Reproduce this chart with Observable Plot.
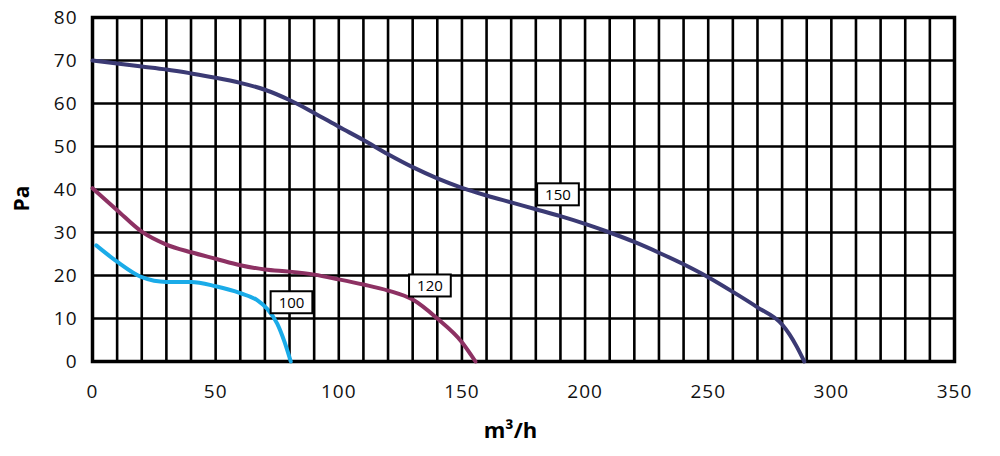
<!DOCTYPE html>
<html><head><meta charset="utf-8">
<script src="https://cdn.jsdelivr.net/npm/d3@7"></script>
<script src="https://cdn.jsdelivr.net/npm/@observablehq/plot@0.6"></script>
<style>
body{margin:0;background:#fff;}
#chart svg{font-family:"Open Sans",sans-serif;}
</style>
</head><body><div id="chart"></div>
<script>
// Curve Ø150
const x150 = [0,10,20,30,40,50,60,70,80,90,100,110,120,130,140,150,160,170,180,190,200,210,220,230,240,250,260,270,280,283,286,289];
const y150 = [70,69.3,68.6,67.9,67,66,64.8,63.2,60.8,57.8,54.6,51.5,48.2,45.2,42.6,40.4,38.6,37,35.4,33.8,32,30,27.8,25.3,22.6,19.6,16.2,12.6,8.6,6.3,3.4,0];
// Curve Ø120
const x120 = [0,10,20,30,40,50,60,70,80,90,100,110,120,130,140,150,155.5];
const y120 = [40.3,35.2,30.2,27.2,25.4,23.9,22.4,21.4,20.9,20.2,19.1,17.9,16.5,14.4,10,4.5,0];
// Curve Ø100
const x100 = [1.5,10,20,30,40,50,60,67,71,75,78,80.5];
const y100 = [27,23.2,19.6,18.5,18.5,17.5,15.9,14.2,12.2,8.8,4.5,0];

const curveNames = ["150","120","100"];
const curveColors = ["#3b3a74","#8d3163","#1aabe8"];

const labelNames = ["100","120","150"];
const labelX = [80.8,137,189];
const labelY = [13.5,17.4,38.6];

const xTicks = [0,50,100,150,200,250,300,350];
const xGrid = [10,20,30,40,50,60,70,80,90,100,110,120,130,140,150,160,170,180,190,200,210,220,230,240,250,260,270,280,290,300,310,320,330,340];
const yTicks = [0,10,20,30,40,50,60,70,80];

const curves = [
  {name: curveNames[0], xs: x150, ys: y150},
  {name: curveNames[1], xs: x120, ys: y120},
  {name: curveNames[2], xs: x100, ys: y100}
];
const lineData = curves.flatMap(c => c.xs.map((x, i) => ({name: c.name, x, y: c.ys[i]})));
const labelData = labelNames.map((n, i) => ({name: n, x: labelX[i], y: labelY[i]}));

const chart = Plot.plot({
  width: 1000,
  height: 456,
  marginLeft: 92,
  marginRight: 46,
  marginTop: 17,
  marginBottom: 95,
  style: {fontFamily: "'Open Sans', sans-serif", fontSize: "19px", color: "#111", background: "#fff"},
  x: {domain: [0, 350], ticks: xTicks, tickSize: 0, tickPadding: 23, label: null},
  y: {domain: [0, 80], ticks: yTicks, tickSize: 0, tickPadding: 15, label: null},
  color: {domain: curveNames, range: curveColors},
  marks: [
    Plot.gridX(xGrid, {stroke: "#000", strokeOpacity: 1, strokeWidth: 2.6}),
    Plot.gridY(yTicks, {stroke: "#000", strokeOpacity: 1, strokeWidth: 2.6}),
    Plot.frame({stroke: "#000", strokeWidth: 3.5}),
    Plot.line(lineData, {x: "x", y: "y", z: "name", stroke: "name", strokeWidth: 4, curve: "monotone-x"}),
    Plot.text(labelData, {x: "x", y: "y", text: "name", fontSize: 15, fill: "#000"}),
    Plot.text(["Pa"], {frameAnchor: "left", dx: -70, dy: 22, rotate: -90, fontWeight: "bold", fontSize: 21, fill: "#000"}),
    Plot.text(["m³/h"], {frameAnchor: "bottom", dx: -13, dy: 76, fontWeight: "bold", fontSize: 22, fill: "#000"})
  ]
});
document.getElementById("chart").appendChild(chart);
// tick label letter spacing
d3.select(chart).selectAll("g[aria-label='x-axis tick label'] text, g[aria-label='y-axis tick label'] text").style("letter-spacing", "1px");
// white boxed labels
d3.select(chart).selectAll("text").filter(function() {
  return labelNames.includes(this.textContent) && this.closest("g[aria-label*='axis']") === null;
}).each(function() {
  const b = this.getBBox();
  const t = this.getAttribute("transform");
  const r = document.createElementNS("http://www.w3.org/2000/svg", "rect");
  r.setAttribute("x", b.x - 8);
  r.setAttribute("y", b.y - 1);
  r.setAttribute("width", b.width + 16);
  r.setAttribute("height", b.height + 2);
  r.setAttribute("fill", "#fff");
  r.setAttribute("stroke", "#000");
  r.setAttribute("stroke-width", 2);
  if (t) r.setAttribute("transform", t);
  this.parentNode.insertBefore(r, this);
});
</script>
</body></html>
